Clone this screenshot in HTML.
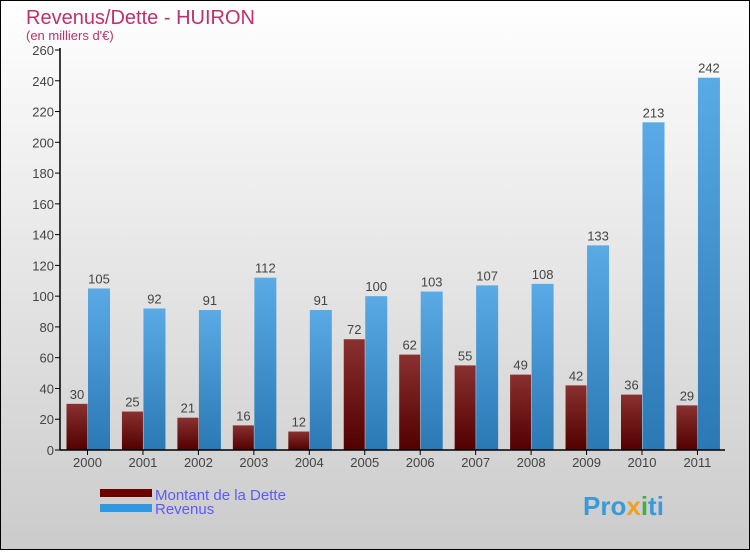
<!DOCTYPE html>
<html><head><meta charset="utf-8"><style>
body{margin:0}
svg text{font-family:"Liberation Sans",sans-serif}
</style></head><body>
<svg width="750" height="550" xmlns="http://www.w3.org/2000/svg">
<defs>
<linearGradient id="bg" x1="0" y1="0" x2="0" y2="1"><stop offset="0" stop-color="#ffffff"/><stop offset="1" stop-color="#cbcbcb"/></linearGradient>
<linearGradient id="gd" x1="0" y1="0" x2="0" y2="1"><stop offset="0" stop-color="#8a3030"/><stop offset="1" stop-color="#520000"/></linearGradient>
<linearGradient id="gr" x1="0" y1="0" x2="0" y2="1"><stop offset="0" stop-color="#5aaae6"/><stop offset="1" stop-color="#2a78b4"/></linearGradient>
</defs>
<rect x="0.5" y="0.5" width="749" height="549" fill="url(#bg)" stroke="#000"/>
<text x="26" y="24" font-size="20" fill="#c0306a">Revenus/Dette - HUIRON</text>
<text x="26" y="40" font-size="13" fill="#c0306a">(en milliers d'€)</text>
<g id="plot"></g>
<g>
<rect x="100" y="489" width="52" height="8" fill="#6a0000"/>
<text x="155" y="500" font-size="15" fill="#5a5aff">Montant de la Dette</text>
<rect x="100" y="504" width="52" height="8" fill="#3098e0"/>
<text x="155" y="514" font-size="15" fill="#5a5aff">Revenus</text>
</g>
<text x="583" y="515" font-size="26" font-weight="bold" fill="#3a9ad8">Pro<tspan fill="#f0a020">x</tspan><tspan fill="#40b040">i</tspan>ti</text>
</svg>
<script>
const years=["2000","2001","2002","2003","2004","2005","2006","2007","2008","2009","2010","2011"];
const dette=[30,25,21,16,12,72,62,55,49,42,36,29];
const revenus=[105,92,91,112,91,100,103,107,108,133,213,242];
const yTicks=[0,20,40,60,80,100,120,140,160,180,200,220,240,260];
const NS="http://www.w3.org/2000/svg";
const g=document.getElementById('plot');
const y=v=>450-v*400/260;
const x=i=>87.5+i*55.45;
function mk(t,a){const e=document.createElementNS(NS,t);for(const k in a)e.setAttribute(k,a[k]);g.appendChild(e);return e;}
yTicks.forEach(v=>{
  const l=mk('line',{x1:55,x2:60,y1:y(v),y2:y(v),stroke:'#000'});
  
  
  const t=mk('text',{x:54,y:y(v)+5,'text-anchor':'end','font-size':13,fill:'#444'});
  t.textContent=v;
  
  
});
years.forEach((yr,i)=>{
  const cx=x(i);
  const b1=mk('rect',{x:cx-21,y:y(dette[i]),width:21,height:450-y(dette[i]),fill:'url(#gd)'});
  
  
  const b2=mk('rect',{x:cx+0.5,y:y(revenus[i]),width:22,height:450-y(revenus[i]),fill:'url(#gr)'});
  
  
  const t1=mk('text',{x:cx-10.5,y:y(dette[i])-5,'text-anchor':'middle','font-size':13,fill:'#444'});
  t1.textContent=dette[i];
  
  
  const t2=mk('text',{x:cx+11.5,y:y(revenus[i])-5,'text-anchor':'middle','font-size':13,fill:'#444'});
  t2.textContent=revenus[i];
  
  
  const tk=mk('line',{x1:cx,x2:cx,y1:450,y2:455,stroke:'#000'});
  
  
  const tl=mk('text',{x:cx,y:467,'text-anchor':'middle','font-size':13,fill:'#444'});
  tl.textContent=yr;
  
  
});
const ya=mk('line',{x1:60,x2:60,y1:48,y2:450,stroke:'#000','stroke-width':1.5});


const xa=mk('line',{x1:60,x2:725,y1:450,y2:450,stroke:'#000','stroke-width':1.5});


</script>
</body></html>
